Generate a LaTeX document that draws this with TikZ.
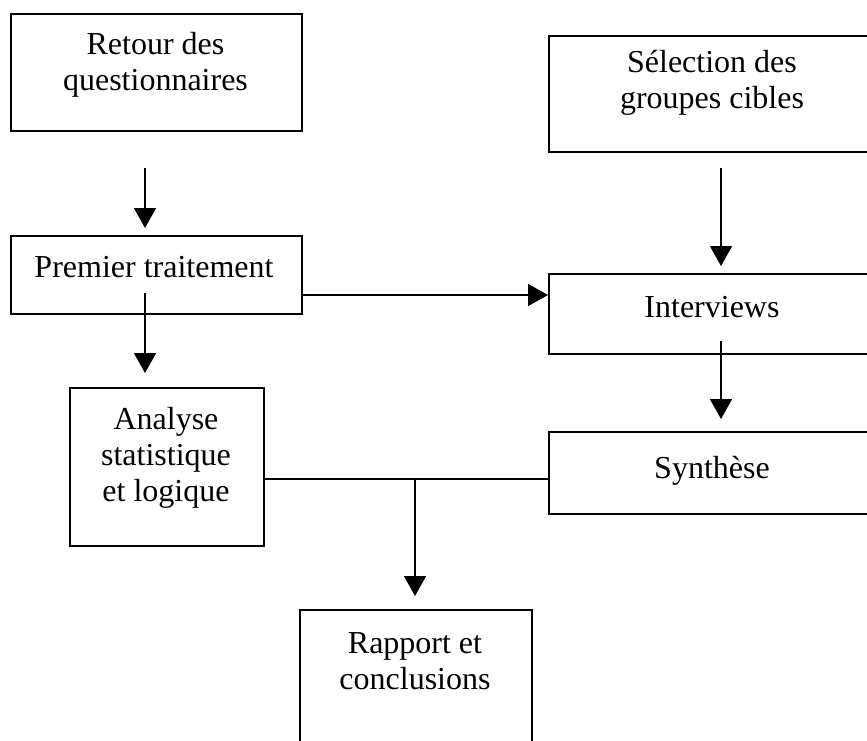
\documentclass[tikz,border=0pt]{standalone}
\usepackage{fontspec}
\setmainfont{Liberation Serif}
\usetikzlibrary{arrows.meta}
\begin{document}
\begin{tikzpicture}[x=1pt,y=-1pt,
  box/.style={draw=black,line width=1.7pt,inner sep=0pt,anchor=north west},
  txt/.style={inner sep=0pt,align=center,anchor=base,font=\fontsize{32}{36}\selectfont},
  arr/.style={line width=1.6pt,-{Triangle[length=20pt,width=22pt]}},
  link/.style={line width=1.6pt}]
\useasboundingbox (0,0) rectangle (867,740);
\clip (0,0) rectangle (867,740);
\fill[white] (0,0) rectangle (867,740);

% left column (text nodes are placed by the baseline of their last line)
\node[box,minimum width=291pt,minimum height=117pt] (retour) at (10,13) {};
\node[txt] (retourT) at (155.5,90) {Retour des\\questionnaires};
\node[box,minimum width=291pt,minimum height=78pt] (premier) at (10,235) {};
\node[txt] (premierT) at (154,277) {Premier traitement};
\node[box,minimum width=194pt,minimum height=158pt] (analyse) at (69,387) {};
\node[txt] (analyseT) at (166,501) {Analyse\\statistique\\et logique};

% right column
\node[box,minimum width=328pt,minimum height=116pt] (selection) at (548,35) {};
\node[txt] (selectionT) at (712,108) {Sélection des\\groupes cibles};
\node[box,minimum width=328pt,minimum height=80pt] (interviews) at (548,273) {};
\node[txt] (interviewsT) at (712,317) {Interviews};
\node[box,minimum width=328pt,minimum height=82pt] (synthese) at (548,431) {};
\node[txt] (syntheseT) at (712,478) {Synthèse};

% report
\node[box,minimum width=232pt,minimum height=160pt] (rapport) at (299,609) {};
\node[txt] (rapportT) at (415,689) {Rapport et\\conclusions};

% connector ends
\coordinate (a1s) at (145,168);  \coordinate (a1e) at (145,228);
\coordinate (a2s) at (145,293);  \coordinate (a2e) at (145,373);
\coordinate (a4s) at (721,168);  \coordinate (a4e) at (721,266);
\coordinate (a5s) at (721,341);  \coordinate (a5e) at (721,419);
\coordinate (join) at (415,479);
\coordinate (a6e) at (415,596);

\draw[arr] (a1s) -- (a1e);
\draw[arr] (a2s) -- (a2e);
\draw[arr] (premier.east |- 0,295) -- (interviews.west |- 0,295);
\draw[arr] (a4s) -- (a4e);
\draw[arr] (a5s) -- (a5e);
\draw[link] (analyse.east |- join) -- (synthese.west |- join);
\draw[arr] (join) -- (a6e);
\end{tikzpicture}
\end{document}
